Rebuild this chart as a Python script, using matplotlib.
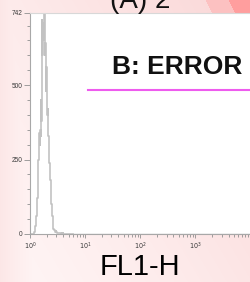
import numpy as np
import matplotlib
matplotlib.use('Agg')
import matplotlib.pyplot as plt
from matplotlib.ticker import LogLocator, FixedLocator, NullFormatter

# histogram data, 128 channels per decade, starting at 10^0
chan_per_decade = 128
counts = [0, 0, 0, 0, 0, 0, 0, 1, 1, 3,
          6, 10, 18, 26, 40, 60, 85, 120, 160, 190,
          250, 300, 340, 300, 350, 330, 450, 380, 720, 600,
          710, 650, 742, 680, 742, 600, 640, 480, 560, 420,
          440, 400, 420, 330, 290, 240, 220, 200, 180, 130,
          100, 75, 60, 35, 25, 18, 15, 12, 10, 8,
          9, 6, 7, 5, 4, 5, 3, 4, 3, 2,
          3, 2, 2, 1, 2, 1, 1, 2, 1, 1,
          0, 1, 1, 0, 1, 0, 1, 0, 0, 1,
          0, 0, 1, 0, 0, 0, 1, 0, 0, 0]
y_ticks = [0, 250, 500, 742]
x_ticks = [1, 10, 100, 1000]
x_ticklabels = ['$10^0$', '$10^1$', '$10^2$', '$10^3$']
title = '(A) 2'
xlabel = 'FL1-H'
gate_label = 'B: ERROR'

plt.rcParams['font.family'] = ['Liberation Sans', 'DejaVu Sans']

fig = plt.figure(figsize=(2.51, 2.82), dpi=100)

# pink background with stripes in the top right corner
bg = fig.add_axes([0, 0, 1, 1])
h, w = 282, 251
yy, xx = np.mgrid[0:h, 0:w]
t = np.clip((xx / w) * 0.6 + (1 - yy / h) * 0.4, 0, 1)
t = np.maximum(t, 0.55 * (1 - xx / 40).clip(0, 1))
base = np.array([1.0, 0.96, 0.96])
pink = np.array([0.98, 0.84, 0.84])
img = base + (pink - base) * t[..., None] ** 1.3
d = xx - 0.5 * yy
band1 = (d > 205) & (yy < 40)
band2 = (d > 228) & (yy < 40)
img[band1] = [0.99, 0.76, 0.76]
img[band2] = [1.0, 0.62, 0.62]
bg.imshow(img, aspect='auto', extent=[0, 1, 0, 1])
bg.axis('off')

ax = fig.add_axes([30 / 251, 1 - 234 / 282, 220.5 / 251, 221 / 282])
ax.set_facecolor('white')
x = 10 ** (np.arange(len(counts)) / chan_per_decade)
ax.plot(x, counts, color='#c2c2c2', lw=1.2, drawstyle='steps-mid')
ax.plot([x[-1], 1e4], [0, 0], color='#c2c2c2', lw=1.0)

ax.set_xscale('log')
ax.set_xlim(1, 1e4)
ax.set_ylim(0, 742)
ax.xaxis.set_major_locator(FixedLocator(x_ticks))
ax.set_xticklabels(x_ticklabels)
ax.xaxis.set_minor_locator(LogLocator(base=10, subs=np.arange(2, 10)))
ax.xaxis.set_minor_formatter(NullFormatter())
ax.set_yticks(y_ticks)
ax.set_yticks(np.arange(50, 742, 50), minor=True)

for s in ['left', 'bottom', 'top']:
    ax.spines[s].set_color('#a8a8a8')
    ax.spines[s].set_linewidth(0.8)
ax.spines['right'].set_visible(False)
ax.spines['top'].set_color('#d8d8d8')

ax.tick_params(axis='both', which='major', length=4, width=0.6, color='#909090',
               labelsize=4.7, labelcolor='#3a3a3a', pad=1.5)
ax.tick_params(axis='both', which='minor', length=2.5, width=0.6, color='#909090')
ax.tick_params(axis='x', which='major', length=3)
ax.tick_params(axis='x', which='minor', length=2)

ax.set_xlabel(xlabel, fontsize=21, labelpad=1)

# gate label with magenta marker line
ax.text(0.962, 0.756, gate_label, transform=ax.transAxes, ha='right', va='center',
        fontsize=19, fontweight='bold', color='#111111')
ax.plot([0.263, 1.0], [0.652, 0.652], transform=ax.transAxes, color='#ee5cee', lw=1.5)

fig.text(0.56, 1 - 8 / 282, title, ha='center', va='baseline', fontsize=20, color='#111111')

fig.savefig('out.png', dpi=100)
